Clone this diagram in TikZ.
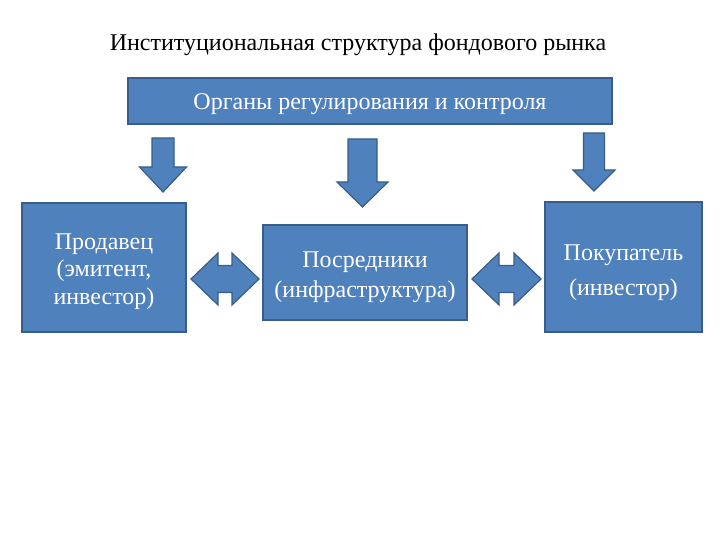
\documentclass[tikz,border=0pt]{standalone}
\usepackage{fontspec}
\setmainfont{Liberation Serif}
\definecolor{boxblue}{HTML}{4F81BD}
\definecolor{boxline}{HTML}{385D8A}
\tikzset{
  blok/.style={draw=boxline, fill=boxblue, line width=1.5pt, inner sep=0pt},
  bloktxt/.style={text=white, align=center, inner sep=0pt, font=\fontsize{24}{27.5}\selectfont},
  strelka/.style={draw=boxline, fill=boxblue, line width=1.2pt, line join=miter}
}
\begin{document}
\begin{tikzpicture}[x=1pt,y=-1pt]
\useasboundingbox (0,0) rectangle (720,540);
\node (title) at (358,45) {\fontsize{24}{28}\selectfont Институциональная структура фондового рынка};
\node[blok, minimum width=484pt, minimum height=46pt,
  label={[bloktxt, yshift=-3pt]center:Органы регулирования и контроля}] (organy) at (370,101) {};
\node[blok, minimum width=164pt, minimum height=129pt,
  label={[bloktxt, yshift=-4pt]center:{Продавец\\(эмитент,\\инвестор)}}] (prodavec) at (104,267.5) {};
\node[blok, minimum width=204pt, minimum height=95pt,
  label={[bloktxt, yshift=-5pt]center:{Посредники\\[2.5pt](инфраструктура)}}] (posredniki) at (365,272.5) {};
\node[blok, minimum width=157pt, minimum height=130pt,
  label={[bloktxt, yshift=-6pt]center:{Покупатель\\[7.5pt](инвестор)}}] (pokupatel) at (623.5,267) {};

% down arrows
\foreach \cx/\ya/\yb/\yc/\sh/\hh in {163/138/167/192/11/23.5, 362.5/139/182/207/14.5/25.5, 594/133/170/191/10.5/21}
{
\draw[strelka] (\cx-\sh,\ya) -- (\cx+\sh,\ya) -- (\cx+\sh,\yb) -- (\cx+\hh,\yb) -- (\cx,\yc)
  -- (\cx-\hh,\yb) -- (\cx-\sh,\yb) -- cycle;
}

% double arrows
\foreach \xa/\xb in {191/259, 472/541}
{
\draw[strelka] (\xa,279) -- (\xa+27,253) -- (\xa+27,265.5) -- (\xb-27,265.5) -- (\xb-27,253)
  -- (\xb,279) -- (\xb-27,305) -- (\xb-27,292.5) -- (\xa+27,292.5) -- (\xa+27,305) -- cycle;
}
\end{tikzpicture}
\end{document}
